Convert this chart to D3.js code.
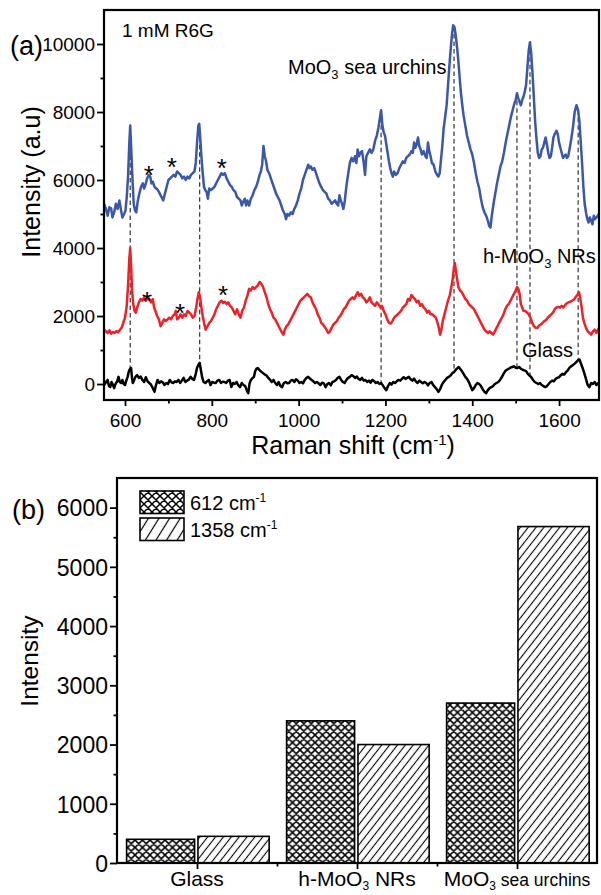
<!DOCTYPE html>
<html><head><meta charset="utf-8">
<script src="https://cdn.jsdelivr.net/npm/d3@7"></script>
<style>body{margin:0;background:#fff} svg text{font-family:"Liberation Sans",Arial,sans-serif;fill:#000}</style>
</head><body>
<svg id="c" width="601" height="895"></svg>
<script>
// ---------- DATA: panel (a) Raman spectra [Raman shift cm-1, intensity] ----------
const seaUrchins = [[552,5300],[556,5150],[560,4950],[564,5200],[568,5170],[571,4900],[575,5050],[579,5300],[583,5150],[587,5400],[591,5100],[594,4900],[598,5000],[601,5100],[604,5500],[607,6100],[610,7100],[612,7600],[614,7000],[617,6100],[620,5300],[623,5100],[626,5050],[629,5350],[633,5600],[637,5800],[641,5900],[644,5750],[647,5850],[651,6050],[655,6150],[658,6100],[661,5900],[664,5950],[668,5800],[672,5750],[676,5700],[680,5600],[684,5500],[688,5400],[692,5600],[696,5800],[700,6000],[704,6050],[708,6100],[712,6150],[716,6100],[720,6250],[724,6200],[728,6150],[732,6050],[736,6100],[740,6000],[744,6100],[748,6050],[752,6150],[756,6200],[760,6250],[763,6500],[766,7100],[769,7600],[771,7650],[773,7300],[776,6700],[779,6200],[782,5800],[785,5700],[788,5650],[791,5450],[794,5750],[798,5700],[802,5750],[806,5800],[810,5900],[814,6000],[818,6100],[822,6200],[826,6150],[830,6200],[834,6050],[838,5950],[842,5850],[846,5800],[850,5700],[854,5650],[858,5500],[862,5450],[866,5400],[869,5250],[872,5350],[876,5450],[879,5250],[882,5400],[886,5250],[890,5450],[894,5550],[898,5700],[902,5800],[906,5950],[910,6150],[913,6250],[916,6450],[919,7000],[922,6700],[925,6550],[928,6300],[932,6200],[936,6050],[940,5900],[944,5750],[948,5600],[952,5500],[956,5400],[960,5250],[964,5100],[968,5000],[971,4850],[974,5000],[978,4950],[982,5050],[986,5000],[990,5150],[994,5250],[998,5400],[1002,5600],[1006,5750],[1010,6000],[1014,6150],[1018,6300],[1022,6450],[1025,6350],[1028,6400],[1032,6300],[1036,6350],[1040,6200],[1044,6050],[1048,5900],[1052,5800],[1056,5700],[1060,5650],[1064,5600],[1068,5450],[1072,5400],[1076,5300],[1080,5350],[1084,5400],[1088,5300],[1091,5250],[1094,5550],[1097,5400],[1100,5300],[1103,5150],[1106,5350],[1109,5700],[1112,6000],[1115,6250],[1118,6500],[1122,6650],[1126,6550],[1130,6700],[1133,6500],[1136,6900],[1139,6700],[1142,6800],[1146,6850],[1150,6500],[1153,6150],[1156,6700],[1160,6800],[1164,6900],[1168,6800],[1172,6900],[1176,7150],[1180,7300],[1184,7550],[1187,7800],[1190,8050],[1193,7600],[1196,7400],[1199,7300],[1202,7050],[1205,6800],[1208,6550],[1211,6350],[1214,6200],[1217,6100],[1220,6250],[1224,6150],[1228,6200],[1232,6350],[1236,6450],[1240,6550],[1244,6500],[1248,6650],[1252,6700],[1256,6750],[1260,6850],[1263,6800],[1266,7100],[1269,6950],[1272,7050],[1275,7250],[1278,7000],[1281,6900],[1284,6750],[1288,6850],[1292,6700],[1295,6650],[1298,7100],[1301,6850],[1304,6700],[1307,6500],[1311,6450],[1315,6250],[1319,6150],[1322,6100],[1325,6200],[1328,6600],[1331,7000],[1334,7500],[1338,7900],[1341,8200],[1344,8750],[1347,9300],[1350,9800],[1353,10250],[1356,10550],[1359,10500],[1362,10250],[1365,9900],[1368,9500],[1371,9000],[1374,8550],[1377,8200],[1380,7900],[1384,7600],[1388,7300],[1392,7100],[1396,6900],[1400,6750],[1404,6500],[1408,6200],[1412,5950],[1416,5750],[1420,5450],[1424,5200],[1428,5050],[1432,4950],[1436,4800],[1439,4650],[1442,4600],[1445,4950],[1449,5300],[1453,5600],[1457,5900],[1461,6150],[1465,6400],[1469,6550],[1473,6800],[1477,7100],[1481,7350],[1485,7600],[1489,7850],[1493,8050],[1497,8250],[1500,8350],[1503,8550],[1506,8400],[1509,8300],[1512,8200],[1515,8350],[1518,8450],[1521,8600],[1524,8800],[1527,9300],[1530,9800],[1533,10050],[1536,9700],[1539,9100],[1542,8400],[1545,7700],[1548,7200],[1551,6800],[1554,6650],[1557,6700],[1560,6900],[1563,6950],[1566,7100],[1569,7250],[1572,7050],[1575,6800],[1578,6650],[1581,6700],[1584,6950],[1587,7250],[1590,7350],[1594,7450],[1597,7350],[1600,7100],[1603,6950],[1606,6800],[1609,6650],[1612,6700],[1615,6750],[1618,6650],[1621,6700],[1624,6900],[1628,7200],[1632,7550],[1636,8000],[1640,8200],[1644,8050],[1647,7700],[1650,7100],[1653,6500],[1656,5800],[1659,5300],[1662,5050],[1665,4850],[1668,4750],[1671,4900],[1674,4800],[1677,4700],[1680,4950],[1683,4850],[1686,4900],[1689,4950],[1692,5000]];

const nanorods = [[552,1600],[556,1550],[560,1500],[564,1580],[568,1480],[572,1530],[576,1500],[580,1560],[584,1520],[588,1590],[592,1650],[596,1800],[600,1950],[604,2300],[607,2900],[610,3700],[612,4000],[614,3500],[616,2800],[619,2350],[622,2150],[625,2100],[628,2250],[632,2400],[636,2500],[640,2450],[644,2550],[648,2450],[652,2550],[656,2500],[660,2400],[664,2500],[667,2250],[670,2150],[674,2000],[678,1900],[682,1700],[686,1800],[690,1900],[694,1850],[698,1900],[702,1950],[706,1900],[710,2000],[714,2050],[717,2150],[720,1900],[724,1950],[728,2050],[732,1950],[736,2050],[740,2000],[744,2150],[748,2100],[752,2050],[756,1950],[760,2000],[764,2250],[767,2500],[770,2700],[773,2550],[776,2250],[779,2000],[782,1800],[786,1600],[790,1700],[794,1800],[798,1850],[802,1950],[806,2050],[810,2200],[814,2300],[818,2400],[822,2450],[826,2380],[830,2420],[834,2350],[838,2400],[842,2300],[846,2250],[850,2150],[854,2050],[858,2200],[862,2050],[866,1950],[870,2150],[874,2250],[878,2450],[882,2600],[886,2800],[890,2750],[894,2850],[898,2800],[902,2850],[906,2900],[910,3000],[914,2950],[918,2850],[922,2700],[926,2550],[930,2350],[934,2200],[938,2100],[942,1950],[946,1900],[950,1800],[954,1700],[958,1600],[962,1500],[965,1450],[968,1600],[972,1700],[976,1750],[980,1850],[984,1950],[988,2050],[992,2150],[996,2250],[1000,2350],[1004,2450],[1008,2500],[1012,2550],[1016,2600],[1020,2650],[1024,2580],[1028,2550],[1032,2400],[1036,2300],[1040,2200],[1044,2050],[1048,1950],[1052,1800],[1056,1750],[1060,1680],[1064,1600],[1068,1500],[1072,1550],[1076,1650],[1080,1750],[1084,1800],[1088,1850],[1092,1950],[1096,2000],[1100,2100],[1104,2200],[1108,2250],[1112,2350],[1116,2450],[1120,2500],[1124,2550],[1128,2500],[1132,2600],[1136,2700],[1140,2600],[1144,2650],[1148,2550],[1152,2500],[1156,2400],[1160,2450],[1164,2550],[1168,2400],[1172,2350],[1176,2300],[1180,2400],[1184,2350],[1188,2250],[1192,2300],[1196,2150],[1200,2050],[1204,1900],[1208,1800],[1212,1780],[1216,1850],[1220,1950],[1224,2000],[1228,2050],[1232,2100],[1236,2150],[1240,2250],[1244,2300],[1248,2350],[1252,2500],[1256,2450],[1260,2620],[1264,2550],[1268,2500],[1272,2400],[1276,2450],[1280,2300],[1284,2350],[1288,2250],[1292,2200],[1296,2100],[1300,2150],[1304,2050],[1308,2050],[1312,2000],[1316,1950],[1320,1800],[1323,1650],[1326,1450],[1329,1600],[1332,1850],[1336,2050],[1340,2250],[1344,2450],[1348,2600],[1352,2850],[1355,3100],[1358,3450],[1360,3550],[1362,3350],[1365,3100],[1368,2850],[1372,2750],[1376,2700],[1380,2600],[1384,2500],[1388,2450],[1392,2350],[1396,2300],[1400,2250],[1404,2200],[1408,2100],[1412,2000],[1416,1900],[1420,1800],[1424,1700],[1428,1600],[1432,1550],[1436,1500],[1440,1550],[1444,1500],[1448,1450],[1452,1550],[1456,1650],[1460,1750],[1464,1850],[1468,1950],[1472,2050],[1476,2200],[1480,2300],[1484,2350],[1488,2450],[1492,2550],[1496,2650],[1500,2750],[1503,2850],[1506,2800],[1509,2650],[1512,2350],[1515,2250],[1518,2150],[1522,2150],[1526,2100],[1530,2050],[1534,1950],[1538,1800],[1542,1700],[1546,1650],[1550,1650],[1554,1720],[1558,1750],[1562,1800],[1566,1850],[1570,1880],[1574,1950],[1578,2000],[1582,2050],[1586,2100],[1590,2200],[1594,2250],[1598,2270],[1602,2250],[1606,2300],[1610,2250],[1614,2320],[1618,2380],[1622,2400],[1626,2420],[1630,2450],[1634,2480],[1638,2550],[1642,2620],[1646,2700],[1649,2500],[1652,2250],[1655,1950],[1658,1800],[1662,1650],[1666,1550],[1670,1500],[1674,1450],[1678,1550],[1682,1600],[1686,1500],[1689,1580],[1692,1650]];

const glass = [[552,-30],[556,50],[560,120],[563,-60],[566,-90],[569,60],[572,-20],[575,-120],[578,0],[582,80],[585,210],[588,60],[591,30],[594,120],[597,0],[600,-30],[603,100],[606,210],[609,380],[612,450],[614,470],[616,200],[618,30],[621,120],[624,210],[628,260],[632,180],[636,220],[640,120],[644,60],[648,200],[652,80],[656,30],[660,-20],[664,-120],[668,-230],[671,-50],[675,120],[679,30],[683,80],[687,50],[691,-30],[695,30],[699,0],[703,120],[707,50],[711,30],[715,80],[719,60],[723,120],[727,30],[731,100],[735,180],[739,60],[743,100],[747,130],[751,210],[755,150],[759,120],[763,300],[766,480],[769,560],[772,620],[775,400],[778,180],[781,60],[785,30],[789,80],[793,120],[797,-30],[801,60],[805,40],[809,30],[813,100],[817,120],[821,30],[825,70],[829,60],[833,30],[837,100],[841,120],[845,-90],[849,30],[853,0],[857,60],[861,-40],[865,-90],[869,30],[873,-30],[877,-60],[881,-200],[884,-270],[887,20],[890,120],[894,180],[897,210],[900,380],[903,450],[906,470],[909,420],[912,380],[915,350],[918,320],[922,280],[926,250],[930,180],[934,130],[938,60],[942,120],[946,30],[950,-30],[954,60],[958,-60],[962,-90],[966,30],[970,60],[974,20],[978,30],[982,100],[986,120],[990,60],[994,140],[998,100],[1002,30],[1006,60],[1010,20],[1014,120],[1018,180],[1022,210],[1026,160],[1030,120],[1034,80],[1038,30],[1042,60],[1046,20],[1050,-30],[1054,40],[1058,20],[1062,-90],[1066,0],[1070,30],[1074,-40],[1078,60],[1082,80],[1086,120],[1090,180],[1094,210],[1098,120],[1102,60],[1106,30],[1110,120],[1114,180],[1118,210],[1122,260],[1126,230],[1130,180],[1134,220],[1138,150],[1142,120],[1146,180],[1150,100],[1154,120],[1158,60],[1162,100],[1166,40],[1170,120],[1174,80],[1178,30],[1182,60],[1186,0],[1190,30],[1194,-40],[1198,-120],[1202,-180],[1206,-60],[1210,30],[1214,-20],[1218,60],[1222,30],[1226,80],[1230,120],[1234,100],[1238,150],[1242,200],[1246,150],[1250,180],[1254,210],[1258,140],[1262,100],[1266,160],[1270,80],[1274,30],[1278,100],[1282,60],[1286,20],[1290,60],[1294,30],[1298,-40],[1302,30],[1306,60],[1310,-30],[1314,-90],[1318,-150],[1322,-230],[1326,-150],[1330,-20],[1334,60],[1338,120],[1342,180],[1346,210],[1350,250],[1354,320],[1358,350],[1362,420],[1366,470],[1369,500],[1372,450],[1376,380],[1380,300],[1384,210],[1388,150],[1392,60],[1396,-60],[1400,-180],[1404,-120],[1408,-30],[1412,30],[1416,0],[1420,-60],[1424,-150],[1428,-230],[1432,-270],[1436,-180],[1440,-120],[1444,-90],[1448,-60],[1452,0],[1456,30],[1460,60],[1464,120],[1468,200],[1472,300],[1476,380],[1480,420],[1484,450],[1488,480],[1492,500],[1496,520],[1500,480],[1504,470],[1508,500],[1512,450],[1516,420],[1520,400],[1524,380],[1528,300],[1532,250],[1536,200],[1540,120],[1544,60],[1548,30],[1552,0],[1556,30],[1560,-30],[1564,-60],[1568,-90],[1572,-60],[1576,0],[1580,60],[1584,100],[1588,80],[1592,150],[1596,180],[1600,200],[1604,260],[1608,300],[1612,280],[1616,350],[1620,400],[1624,480],[1628,520],[1632,560],[1636,600],[1640,650],[1644,700],[1647,720],[1650,620],[1654,480],[1658,320],[1662,150],[1666,-30],[1670,-90],[1674,30],[1678,0],[1682,60],[1686,-30],[1690,30],[1692,0]];

const peakLines = [612, 772, 1190, 1358, 1503, 1533, 1644];
const starsSeaUrchins = [[655,6320],[708,6560],[823,6530]];
const starsNanorods = [[651,2620],[727,2260],[826,2790]];
const xTicksA = [600, 800, 1000, 1200, 1400, 1600];
const xMinorA = [700, 900, 1100, 1300, 1500];
const yTicksA = [0, 2000, 4000, 6000, 8000, 10000];
const yMinorA = [1000, 3000, 5000, 7000, 9000];

// ---------- DATA: panel (b) bar chart ----------
const categories = ["Glass", "h-MoO3 NRs", "MoO3 sea urchins"];
const band612 = [400, 2400, 2700];
const band1358 = [450, 2000, 5680];
const yTicksB = [0, 1000, 2000, 3000, 4000, 5000, 6000];
const yMinorB = [500, 1500, 2500, 3500, 4500, 5500];

// ---------- DRAWING ----------
const svg = d3.select("#c");
const BLUE = "#3b57a7", RED = "#ec2229";

// patterns
const defs = svg.append("defs");
function cross(id, s, w) {
  const p = defs.append("pattern").attr("id", id).attr("patternUnits", "userSpaceOnUse")
    .attr("width", s).attr("height", s);
  p.append("rect").attr("width", s).attr("height", s).attr("fill", "#fff");
  p.append("path").attr("d", `M0,0L${s},${s}M0,${s}L${s},0M-1,1L1,-1M${s-1},${s+1}L${s+1},${s-1}`)
    .attr("stroke", "#000").attr("stroke-width", w);
}
function stripe(id, s, w, ang) {
  const p = defs.append("pattern").attr("id", id).attr("patternUnits", "userSpaceOnUse")
    .attr("width", s).attr("height", s).attr("patternTransform", `rotate(${ang})`);
  p.append("rect").attr("width", s).attr("height", s).attr("fill", "#fff");
  p.append("line").attr("x1", s/2).attr("x2", s/2).attr("y1", 0).attr("y2", s)
    .attr("stroke", "#000").attr("stroke-width", w);
}
cross("xh", 7.5, 1.6);
cross("xhL", 8, 1.5);
stripe("st", 6.2, 1.1, 38);
stripe("stL", 9, 1.2, 32);

// ===== Panel (a) =====
const A = {l: 104, r: 599, t: 10, b: 400};
const xA = d3.scaleLinear().domain([551.6, 1692]).range([A.l, A.r]);
const yA = d3.scaleLinear().domain([-470, 11000]).range([A.b, A.t]);
const gA = svg.append("g");

function styleAxis(g, fs) {
  g.select(".domain").remove();
  g.selectAll(".tick line").attr("stroke", "#000").attr("stroke-width", 1.8);
  g.selectAll("text").attr("font-size", fs).attr("fill", "#000")
    .attr("font-family", '"Liberation Sans",Arial,sans-serif');
}
const xAxA = gA.append("g").attr("transform", `translate(0,${A.b})`)
  .call(d3.axisBottom(xA).tickValues(xTicksA).tickSize(6).tickPadding(7.5).tickFormat(d3.format("d")));
styleAxis(xAxA, 19);
const xAxAm = gA.append("g").attr("transform", `translate(0,${A.b})`)
  .call(d3.axisBottom(xA).tickValues(xMinorA).tickSize(3.5).tickFormat(""));
styleAxis(xAxAm, 19);
const yAxA = gA.append("g").attr("transform", `translate(${A.l},0)`)
  .call(d3.axisLeft(yA).tickValues(yTicksA).tickSize(7).tickPadding(2).tickFormat(d3.format("d")));
styleAxis(yAxA, 19);
yAxA.selectAll("text").attr("dy", "0.36em");
const yAxAm = gA.append("g").attr("transform", `translate(${A.l},0)`)
  .call(d3.axisLeft(yA).tickValues(yMinorA).tickSize(3.5).tickFormat(""));
styleAxis(yAxAm, 19);

// interpolation helper on the measured data (for dashed guide endpoints)
const bis = d3.bisector(d => d[0]).left;
function valAt(series, x) {
  const i = Math.max(1, Math.min(series.length - 1, bis(series, x)));
  const a = series[i-1], b = series[i];
  return a[1] + (b[1] - a[1]) * (x - a[0]) / (b[0] - a[0]);
}
gA.append("g").selectAll("line").data(peakLines).join("line")
  .attr("x1", d => xA(d)).attr("x2", d => xA(d))
  .attr("y1", d => yA(valAt(seaUrchins, d))).attr("y2", d => yA(valAt(glass, d)))
  .attr("stroke", "#333").attr("stroke-width", 1.2).attr("stroke-dasharray", "4.5,3");

const line = d3.line().x(d => xA(d[0])).y(d => yA(d[1]));
[[glass, "#000"], [nanorods, RED], [seaUrchins, BLUE]].forEach(([s, c]) => {
  gA.append("path").datum(s).attr("d", line).attr("fill", "none")
    .attr("stroke", c).attr("stroke-width", 2.5).attr("stroke-linejoin", "round");
});

// asterisks
gA.append("g").selectAll("text").data(starsSeaUrchins.concat(starsNanorods)).join("text")
  .attr("x", d => xA(d[0])).attr("y", d => yA(d[1]) + 15)
  .attr("text-anchor", "middle").attr("font-size", 26).text("*");

// frame
gA.append("rect").attr("x", A.l).attr("y", A.t).attr("width", A.r - A.l).attr("height", A.b - A.t)
  .attr("fill", "none").attr("stroke", "#000").attr("stroke-width", 2.2);

// texts panel (a)
svg.append("text").attr("x", 10).attr("y", 55).attr("font-size", 27).text("(a)");
svg.append("text").attr("x", 122).attr("y", 37).attr("font-size", 19).text("1 mM R6G");
const t1 = svg.append("text").attr("x", 288).attr("y", 74).attr("font-size", 20);
t1.append("tspan").text("MoO");
t1.append("tspan").attr("font-size", 13).attr("dy", 5).text("3");
t1.append("tspan").attr("dy", -5).text(" sea urchins");
const t2 = svg.append("text").attr("x", 483).attr("y", 263).attr("font-size", 20);
t2.append("tspan").text("h-MoO");
t2.append("tspan").attr("font-size", 13).attr("dy", 5).text("3");
t2.append("tspan").attr("dy", -5).text(" NRs");
svg.append("text").attr("x", 522).attr("y", 357).attr("font-size", 20).text("Glass");
const xl = svg.append("text").attr("x", 353).attr("y", 454).attr("font-size", 25).attr("text-anchor", "middle");
xl.append("tspan").text("Raman shift (cm");
xl.append("tspan").attr("font-size", 15).attr("dy", -9).text("-1");
xl.append("tspan").attr("dy", 9).text(")");
svg.append("text").attr("transform", "translate(40,182) rotate(-90)").attr("text-anchor", "middle")
  .attr("font-size", 25).text("Intensity (a.u)");

// ===== Panel (b) =====
const B = {l: 117, r: 597, t: 478, b: 863};
const xB = d3.scaleLinear().domain([0.5, 3.5]).range([B.l, B.r]);
const yB = d3.scaleLinear().domain([0, 6500]).range([B.b, B.t]);
const gB = svg.append("g");

const bars = gB.append("g");
bars.selectAll("rect.a").data(band612).join("rect").attr("class", "a")
  .attr("x", (d, i) => xB(i + 1 - 0.44)).attr("width", xB(1) - xB(0.575))
  .attr("y", d => yB(d)).attr("height", d => yB(0) - yB(d))
  .attr("fill", "url(#xh)").attr("stroke", "#000").attr("stroke-width", 1.6);
bars.selectAll("rect.b").data(band1358).join("rect").attr("class", "b")
  .attr("x", (d, i) => xB(i + 1 + 0.006)).attr("width", xB(1) - xB(0.555))
  .attr("y", d => yB(d)).attr("height", d => yB(0) - yB(d))
  .attr("fill", "url(#st)").attr("stroke", "#000").attr("stroke-width", 1.6);

const yAxB = gB.append("g").attr("transform", `translate(${B.l},0)`)
  .call(d3.axisLeft(yB).tickValues(yTicksB).tickSize(7).tickPadding(2).tickFormat(d3.format("d")));
styleAxis(yAxB, 23);
yAxB.selectAll("text").attr("dy", "0.36em");
const yAxBm = gB.append("g").attr("transform", `translate(${B.l},0)`)
  .call(d3.axisLeft(yB).tickValues(yMinorB).tickSize(3.5).tickFormat(""));
styleAxis(yAxBm, 23);
const xAxB = gB.append("g").attr("transform", `translate(0,${B.b})`)
  .call(d3.axisBottom(xB).tickValues([1, 2, 3]).tickSize(6).tickFormat(""));
styleAxis(xAxB, 21);
const xAxBm = gB.append("g").attr("transform", `translate(0,${B.b})`)
  .call(d3.axisBottom(xB).tickValues([1.5, 2.5]).tickSize(3.5).tickFormat(""));
styleAxis(xAxBm, 21);

gB.append("rect").attr("x", B.l).attr("y", B.t).attr("width", B.r - B.l).attr("height", B.b - B.t)
  .attr("fill", "none").attr("stroke", "#000").attr("stroke-width", 2.2);

// category labels
const catParts = categories.map(c => {
  const m = c.match(/^(.*MoO)3(.*)$/);
  return m ? [m[1], "3", m[2]] : [c];
});
catParts.forEach((parts, i) => {
  const t = gB.append("text").attr("x", xB(i + 1)).attr("y", 886).attr("font-size", 21)
    .attr("text-anchor", "middle");
  t.append("tspan").text(parts[0]);
  if (parts.length > 1) {
    t.append("tspan").attr("font-size", 12).attr("dy", 3.5).text(parts[1]);
    const rest = t.append("tspan").attr("dy", -3.5).text(parts[2]);
    if (i === 2) rest.attr("font-size", 17.5);
  }
});

// legend
const legend = [["612 cm", "url(#xhL)"], ["1358 cm", "url(#stL)"]];
legend.forEach(([lab, fill], i) => {
  const y0 = 491 + i * 27;
  gB.append("rect").attr("x", 140).attr("y", y0).attr("width", 44).attr("height", 22.5)
    .attr("fill", fill).attr("stroke", "#000").attr("stroke-width", 1.6);
  const t = gB.append("text").attr("x", 190).attr("y", y0 + 18.5).attr("font-size", 20);
  t.append("tspan").text(lab);
  t.append("tspan").attr("font-size", 12).attr("dy", -8).text("-1");
});

svg.append("text").attr("x", 12).attr("y", 519).attr("font-size", 27).text("(b)");
svg.append("text").attr("transform", "translate(38,661) rotate(-90)").attr("text-anchor", "middle")
  .attr("font-size", 24.5).text("Intensity");
</script>
</body></html>
